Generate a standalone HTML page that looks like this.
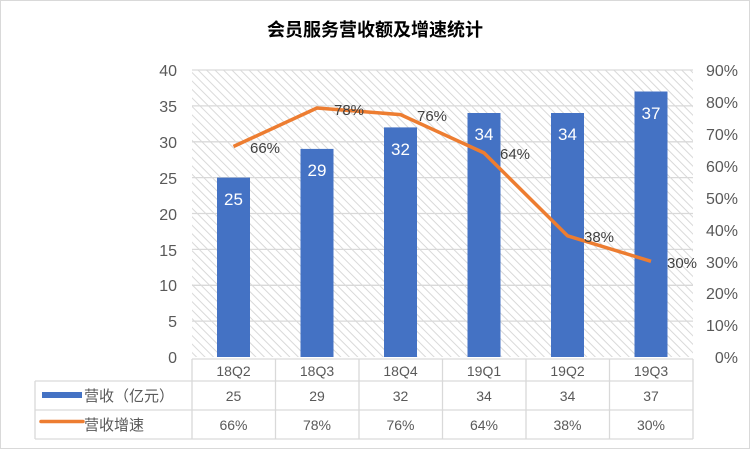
<!DOCTYPE html>
<html><head><meta charset="utf-8"><style>body{margin:0;background:#fff}</style></head><body>
<svg width="750" height="449" xmlns="http://www.w3.org/2000/svg" font-family="Liberation Sans, Noto Sans CJK SC, sans-serif">
<defs><pattern id="h" width="6" height="6" patternUnits="userSpaceOnUse" patternTransform="rotate(-45)"><rect width="6" height="6" fill="#fff"/><line x1="0" y1="0" x2="0" y2="6" stroke="#d9d9d9" stroke-width="2"/></pattern></defs>
<rect x="0.5" y="0.5" width="749" height="448" fill="#fff" stroke="#d9d9d9"/>
<text x="375" y="36" text-anchor="middle" font-size="18" font-weight="bold" fill="#000" font-family="Noto Sans CJK SC, sans-serif">会员服务营收额及增速统计</text>
<rect x="192" y="70" width="501" height="287" fill="url(#h)"/>
<g stroke="#d9d9d9" stroke-width="1.3">
<line x1="192" x2="693" y1="70" y2="70"/><line x1="192" x2="693" y1="105.9" y2="105.9"/><line x1="192" x2="693" y1="141.8" y2="141.8"/><line x1="192" x2="693" y1="177.6" y2="177.6"/><line x1="192" x2="693" y1="213.5" y2="213.5"/><line x1="192" x2="693" y1="249.4" y2="249.4"/><line x1="192" x2="693" y1="285.3" y2="285.3"/><line x1="192" x2="693" y1="321.1" y2="321.1"/>
</g>
<g fill="#4472c4">
<rect x="217" y="177.6" width="33" height="179.4"/><rect x="300.5" y="148.9" width="33" height="208.1"/><rect x="384" y="127.4" width="33" height="229.6"/><rect x="467.5" y="113" width="33" height="244"/><rect x="551" y="113" width="33" height="244"/><rect x="634.5" y="91.5" width="33" height="265.5"/>
</g>
<g fill="#fff" font-size="17" text-anchor="middle">
<text x="233.5" y="205">25</text><text x="317" y="176">29</text><text x="400.5" y="155">32</text><text x="484" y="140">34</text><text x="567.5" y="140">34</text><text x="651" y="119">37</text>
</g>
<polyline points="233.5,146.5 317,108 400.5,114.6 484,152.9 567.5,235.8 651,261.3" fill="none" stroke="#ed7d31" stroke-width="3.5" stroke-linejoin="round"/>
<g fill="#404040" font-size="15">
<text x="250" y="153">66%</text><text x="334" y="115">78%</text><text x="417" y="121">76%</text><text x="500" y="159">64%</text><text x="584" y="242">38%</text><text x="667" y="268">30%</text>
</g>
<g fill="#595959" font-size="16" text-anchor="end">
<text x="177" y="76">40</text><text x="177" y="112">35</text><text x="177" y="148">30</text><text x="177" y="184">25</text><text x="177" y="220">20</text><text x="177" y="256">15</text><text x="177" y="291">10</text><text x="177" y="327">5</text><text x="177" y="363">0</text>
</g>
<g fill="#595959" font-size="16" text-anchor="end">
<text x="738" y="76">90%</text><text x="738" y="108">80%</text><text x="738" y="140">70%</text><text x="738" y="172">60%</text><text x="738" y="204">50%</text><text x="738" y="236">40%</text><text x="738" y="268">30%</text><text x="738" y="299">20%</text><text x="738" y="331">10%</text><text x="738" y="363">0%</text>
</g>
<g stroke="#d9d9d9" stroke-width="1.3" fill="none">
<line x1="192" x2="693" y1="359" y2="359"/>
<line x1="35" x2="693" y1="381" y2="381"/><line x1="35" x2="693" y1="410" y2="410"/><line x1="35" x2="693" y1="439" y2="439"/>
<line x1="35" x2="35" y1="381" y2="439"/>
<line x1="192" x2="192" y1="359" y2="439"/><line x1="275.5" x2="275.5" y1="359" y2="439"/><line x1="359" x2="359" y1="359" y2="439"/><line x1="442.5" x2="442.5" y1="359" y2="439"/><line x1="526" x2="526" y1="359" y2="439"/><line x1="609.5" x2="609.5" y1="359" y2="439"/><line x1="693" x2="693" y1="359" y2="439"/>
</g>
<g fill="#595959" font-size="14" text-anchor="middle">
<text x="233.5" y="376">18Q2</text><text x="317" y="376">18Q3</text><text x="400.5" y="376">18Q4</text><text x="484" y="376">19Q1</text><text x="567.5" y="376">19Q2</text><text x="651" y="376">19Q3</text>
<text x="233.5" y="401">25</text><text x="317" y="401">29</text><text x="400.5" y="401">32</text><text x="484" y="401">34</text><text x="567.5" y="401">34</text><text x="651" y="401">37</text>
<text x="233.5" y="430">66%</text><text x="317" y="430">78%</text><text x="400.5" y="430">76%</text><text x="484" y="430">64%</text><text x="567.5" y="430">38%</text><text x="651" y="430">30%</text>
</g>
<rect x="42" y="392" width="40" height="6" fill="#4472c4"/>
<line x1="41" x2="83" y1="421.5" y2="421.5" stroke="#ed7d31" stroke-width="3.5" stroke-linecap="round"/>
<g fill="#595959" font-size="15" font-family="Noto Sans CJK SC, sans-serif">
<text x="84" y="401">营收（亿元）</text><text x="84" y="430">营收增速</text>
</g>
</svg>
</body></html>
